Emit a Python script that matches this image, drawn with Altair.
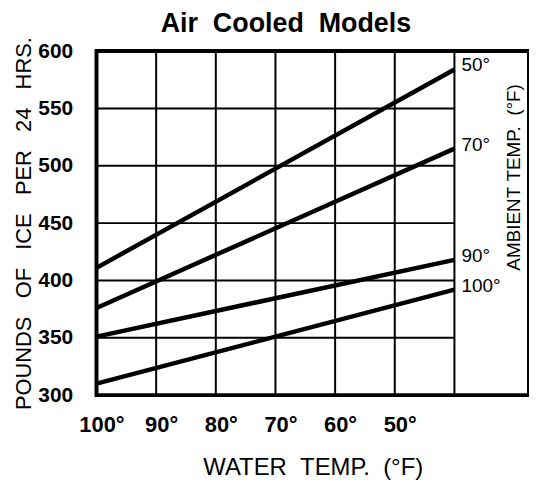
import altair as alt
import pandas as pd

# ---- data ----
ambient = ["50°", "70°", "90°", "100°"]
water_temps = [100, 40]
ice_at_water_100 = [411, 376, 351, 310]
ice_at_water_40 = [584, 515, 418, 392]

x_tick_values = [100, 90, 80, 70, 60, 50]
y_tick_values = [300, 350, 400, 450, 500, 550, 600]
grid_x_values = [90, 80, 70, 60, 50, 40]
grid_y_values = [350, 400, 450, 500, 550]

NB = "\u00a0"
FONT = "Liberation Sans"

rows = []
for name, a, b in zip(ambient, ice_at_water_100, ice_at_water_40):
    rows.append({"ambient": name, "water": water_temps[0], "ice": a})
    rows.append({"ambient": name, "water": water_temps[1], "ice": b})
lines_df = pd.DataFrame(rows)

end_df = pd.DataFrame({"ambient": ambient, "water": [water_temps[1]] * 4,
                       "ice": ice_at_water_40})
vgrid_df = pd.DataFrame({"water": grid_x_values, "lo": 300, "hi": 600})
hgrid_df = pd.DataFrame({"ice": grid_y_values, "a": 100, "b": 40})

xs = alt.Scale(domain=[27.5, 100], reverse=True, nice=False, zero=False)
ys = alt.Scale(domain=[300, 600], nice=False, zero=False)

S3 = NB * 3
x_title = f"WATER{NB}{NB}TEMP.{NB}{NB}(°F)"
y_title = S3.join(["POUNDS", "OF", "ICE", "PER", "24", "HRS."])

x_axis = alt.Axis(values=x_tick_values, labelExpr="datum.value + '°'",
                  domain=False, ticks=False, grid=False, labelOverlap=False,
                  labelFlush=False,
                  labelFontSize=22, labelFontWeight="bold", labelOffset=5,
                  labelColor="black", labelPadding=20,
                  title=x_title, titleFontSize=24,
                  titleFontWeight="normal", titleColor="black",
                  titlePadding=20)
y_axis = alt.Axis(values=y_tick_values, domain=False, ticks=False,
                  grid=False, labelOverlap=False, labelFlush=False,
                  labelFontSize=21, labelFontWeight="bold",
                  labelColor="black", labelPadding=24,
                  title=y_title, titleFontSize=22,
                  titleFontWeight="normal", titleColor="black",
                  titlePadding=2)

vgrid = alt.Chart(vgrid_df).mark_rule(color="black", strokeWidth=2).encode(
    x=alt.X("water:Q", scale=xs, axis=x_axis),
    y=alt.Y("lo:Q", scale=ys, axis=y_axis),
    y2="hi:Q",
)
hgrid = alt.Chart(hgrid_df).mark_rule(color="black", strokeWidth=2).encode(
    x=alt.X("a:Q", scale=xs, axis=x_axis),
    x2="b:Q",
    y=alt.Y("ice:Q", scale=ys, axis=y_axis),
)

lines = alt.Chart(lines_df).mark_line(color="black", strokeWidth=4.5).encode(
    x=alt.X("water:Q", scale=xs, axis=x_axis),
    y=alt.Y("ice:Q", scale=ys, axis=y_axis),
    detail="ambient:N",
)

labels = alt.Chart(end_df).mark_text(
    align="left", baseline="middle", dx=7, dy=-4, fontSize=19, color="black",
    font=FONT,
).encode(
    x=alt.X("water:Q", scale=xs, axis=x_axis),
    y=alt.Y("ice:Q", scale=ys, axis=y_axis),
    text="ambient:N",
)

amb_title = alt.Chart(pd.DataFrame({"t": [f"AMBIENT{NB}TEMP.{NB}{NB}(°F)"]})).mark_text(
    angle=270, align="center", baseline="middle", fontSize=19, color="black",
    font=FONT,
).encode(x=alt.value(420), y=alt.value(127), text="t:N")

chart = alt.layer(lines, vgrid, hgrid, labels, amb_title).properties(
    width=435,
    height=346,
    padding={"left": 89, "top": 42, "right": 0, "bottom": 84},
    autosize=alt.AutoSizeParams(type="none"),
    title=alt.TitleParams("Air" + NB * 2 + "Cooled" + NB * 2 + "Models",
                          fontSize=27, fontWeight="bold", anchor="middle",
                          frame="group", dx=-27, dy=4, offset=3, color="black",
                          font=FONT),
).configure(
    font=FONT,
    view=alt.ViewConfig(stroke="black", strokeWidth=4),
    axis=alt.AxisConfig(labelFont=FONT, titleFont=FONT),
)

chart.save("out.html", embed_options={"renderer": "svg", "actions": False})
